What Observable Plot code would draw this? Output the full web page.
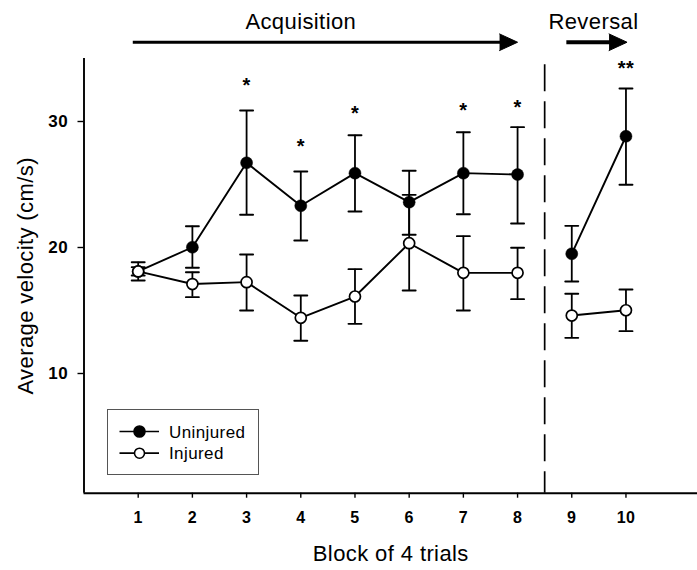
<!DOCTYPE html>
<html><head><meta charset="utf-8">
<script src="https://cdn.jsdelivr.net/npm/d3@7"></script>
<script src="https://cdn.jsdelivr.net/npm/@observablehq/plot@0.6"></script>
<style>
body{margin:0;background:#fff;}
#wrap{position:relative;width:697px;height:570px;font-family:"Liberation Sans",Arial,Helvetica,sans-serif;}
#wrap svg text{letter-spacing:0.4px;}
#chart svg g[aria-label="x-axis tick label"]{font-size:16px !important;font-weight:bold;}
#chart svg g[aria-label="y-axis tick label"]{font-size:17px !important;font-weight:bold;}
#legend{position:absolute;left:107px;top:409px;width:152px;height:66px;border:1px solid #555;box-sizing:border-box;}
#legend svg{display:block;}
</style>
</head><body>
<div id="wrap"><div id="chart"></div><div id="legend"></div></div>
<script>
// ---- data ----
const blocks = [1,2,3,4,5,6,7,8,9,10];
const phases = ["acq","acq","acq","acq","acq","acq","acq","acq","rev","rev"];
const uninjuredMean = [18.10,20.02,26.72,23.31,25.90,23.60,25.90,25.79,19.50,28.83];
const uninjuredHi   = [18.83,21.69,30.87,26.03,28.91,26.09,29.15,29.55,21.72,32.62];
const uninjuredLo   = [17.38,18.39,22.60,20.56,22.86,21.01,22.64,21.90,17.30,24.98];
const injuredMean   = [18.10,17.10,17.25,14.42,16.11,20.34,17.99,17.99,14.60,15.02];
const injuredHi     = [18.44,18.04,19.44,16.19,18.28,24.18,20.90,19.98,16.33,16.67];
const injuredLo     = [17.78,16.06,15.00,12.60,13.94,16.59,15.00,15.90,12.83,13.36];
const starBlocks = [3,4,5,7,8,10];
const starLabels = ["*","*","*","*","*","**"];
const starY      = [33.25,28.41,31.00,31.27,31.53,34.60];
const xTicks = [1,2,3,4,5,6,7,8,9,10];
const yTicks = [10,20,30];
const phaseLabels = ["Acquisition","Reversal"];
const phaseLabelX = [4.0,9.4];
const phaseLabelY = [37.9,37.9];
const arrowStart = [0.9,8.9];
const arrowEnd   = [8.0,10.02];
const arrowY     = [36.29,36.29];
const arrowWidth = [3,4];
const dividerX = [8.5];
const xDomain = [0,11.32];
const yDomain = [0.5,35];
const seriesNames = ["Uninjured","Injured"];

// ---- tables ----
const uninj = blocks.map((b,i)=>({block:b, phase:phases[i], mean:uninjuredMean[i], hi:uninjuredHi[i], lo:uninjuredLo[i]}));
const inj   = blocks.map((b,i)=>({block:b, phase:phases[i], mean:injuredMean[i], hi:injuredHi[i], lo:injuredLo[i]}));
const stars = starBlocks.map((b,i)=>({block:b, label:starLabels[i], y:starY[i]}));
const arrows = arrowStart.map((s,i)=>({x1:s, x2:arrowEnd[i], y:arrowY[i], w:arrowWidth[i]}));
const phaseText = phaseLabels.map((t,i)=>({t, x:phaseLabelX[i], y:phaseLabelY[i]}));

const capShape = {draw(ctx, l){ ctx.moveTo(0,0); ctx.lineTo(0,-l); }};

function errMarks(data){
  return [
    Plot.ruleX(data,{x:"block", y1:"lo", y2:"hi", stroke:"black", strokeWidth:1.8}),
    Plot.vector(data,{x:"block", y:"hi", rotate:90, length:13, anchor:"middle", shape:capShape, stroke:"black", strokeWidth:1.9}),
    Plot.vector(data,{x:"block", y:"lo", rotate:90, length:13, anchor:"middle", shape:capShape, stroke:"black", strokeWidth:1.9})
  ];
}

const chart = Plot.plot({
  width:697, height:570,
  marginTop:58, marginBottom:77.3, marginLeft:83.5, marginRight:0,
  x:{domain:xDomain},
  y:{domain:yDomain},
  style:{fontFamily:'"Liberation Sans",Arial,Helvetica,sans-serif', color:"black", background:"white", overflow:"visible"},
  marks:[
    Plot.axisY(yTicks,{tickSize:6, tickPadding:10, fontSize:17, fontWeight:"bold", label:null, strokeWidth:1.4}),
    Plot.axisX(xTicks,{tickSize:5, tickPadding:13, fontSize:16, fontWeight:"bold", label:null, strokeWidth:1.4}),
    Plot.ruleX([xDomain[0]],{y1:yDomain[0], y2:yDomain[1], stroke:"black", strokeWidth:1.9}),
    Plot.ruleY([yDomain[0]],{x1:xDomain[0], x2:xDomain[1], stroke:"black", strokeWidth:1.9}),
    Plot.ruleX(dividerX,{x:d=>d, y1:()=>34.5, y2:()=>yDomain[0], stroke:"black", strokeWidth:1.7, strokeDasharray:"27,10"}),
    ...errMarks(uninj),
    ...errMarks(inj),
    Plot.line(uninj,{x:"block", y:"mean", z:"phase", stroke:"black", strokeWidth:1.9}),
    Plot.line(inj,{x:"block", y:"mean", z:"phase", stroke:"black", strokeWidth:1.9}),
    Plot.dot(uninj,{x:"block", y:"mean", r:6, fill:"black", stroke:"black", strokeWidth:0.5}),
    Plot.dot(inj,{x:"block", y:"mean", r:5.5, fill:"white", stroke:"black", strokeWidth:1.7}),
    Plot.text(stars,{x:"block", y:"y", text:"label", fontSize:20, fontWeight:"bold", dy:5}),
    Plot.text(phaseText,{x:"x", y:"y", text:"t", fontSize:22}),
    Plot.link(arrows,{x1:"x1", x2:d=>d.x2-0.15, y1:"y", y2:"y", stroke:"black", strokeWidth:d=>d.w}),
    Plot.vector(arrows,{x:"x2", y:"y", rotate:90, length:18, r:8.3, shape:"spike", anchor:"end", fill:"black", stroke:"black", strokeWidth:1}),
    Plot.text(["Average velocity (cm/s)"],{frameAnchor:"left", dx:-58, rotate:-90, textAnchor:"middle", lineAnchor:"middle", fontSize:22}),
    Plot.text(["Block of 4 trials"],{frameAnchor:"bottom", dy:60.3, textAnchor:"middle", lineAnchor:"middle", fontSize:22})
  ]
});
document.getElementById("chart").appendChild(chart);

// ---- legend ----
const ns = "http://www.w3.org/2000/svg";
const lg = document.createElementNS(ns,"svg");
lg.setAttribute("width","150"); lg.setAttribute("height","64");
seriesNames.forEach((name,i)=>{
  const cy = 21.5 + i*21.7;
  const ln = document.createElementNS(ns,"line");
  ln.setAttribute("x1","11.5"); ln.setAttribute("x2","51"); ln.setAttribute("y1",cy); ln.setAttribute("y2",cy);
  ln.setAttribute("stroke","black"); ln.setAttribute("stroke-width","1.7");
  lg.appendChild(ln);
  const c = document.createElementNS(ns,"circle");
  c.setAttribute("cx","31.5"); c.setAttribute("cy",cy); c.setAttribute("r", i===0?"5.5":"5");
  c.setAttribute("fill", i===0?"black":"white"); c.setAttribute("stroke","black"); c.setAttribute("stroke-width","1.6");
  lg.appendChild(c);
  const t = document.createElementNS(ns,"text");
  t.setAttribute("x","61"); t.setAttribute("y",cy+6);
  t.setAttribute("font-size","17"); t.setAttribute("letter-spacing","0.3");
  t.setAttribute("font-family",'"Liberation Sans",Arial,Helvetica,sans-serif');
  t.textContent = name;
  lg.appendChild(t);
});
document.getElementById("legend").appendChild(lg);
</script>
</body></html>
